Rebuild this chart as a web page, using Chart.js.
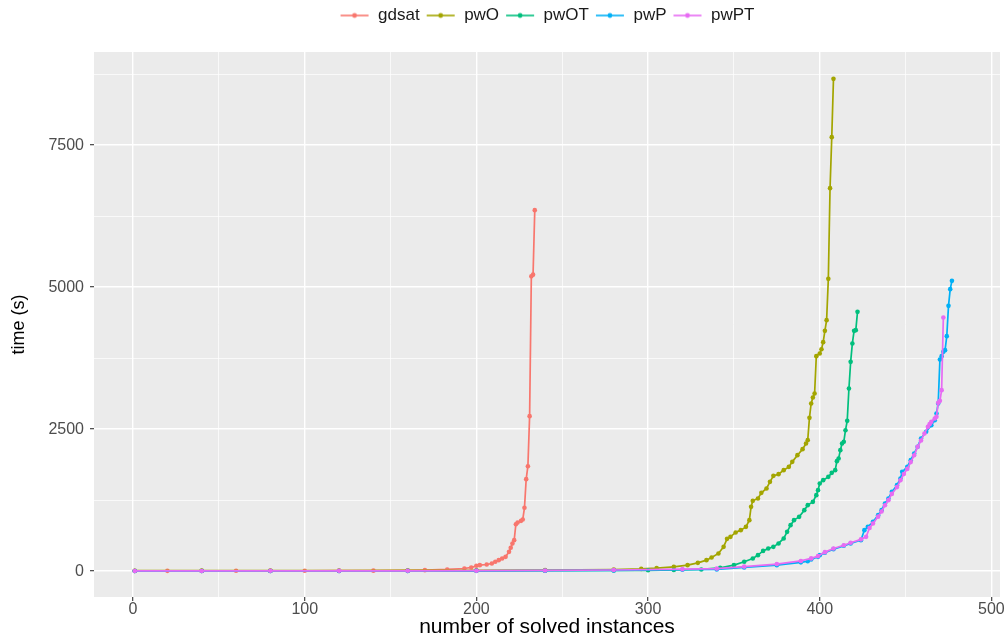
<!DOCTYPE html>
<html>
<head>
<meta charset="utf-8">
<script src="https://cdn.jsdelivr.net/npm/chart.js@4.4.1/dist/chart.umd.min.js"></script>
<style>
  html, body { margin: 0; padding: 0; background: #ffffff; }
  #chart { display: block; }
</style>
</head>
<body>
<canvas id="chart" width="1005" height="640"></canvas>
<script>
// series names (legend order)
const seriesNames = ['gdsat', 'pwO', 'pwOT', 'pwP', 'pwPT'];
const seriesColors = ['#F8766D', '#A3A500', '#00BF7D', '#00B0F6', '#E76BF3'];

// values: x = number of solved instances, y = time (s)
const gdsatX = [1, 20, 40, 60, 80, 100, 120, 140, 160, 170, 183, 193, 197, 200, 202, 206, 209, 211, 213, 215, 217, 219, 220, 221, 222, 223, 224, 226, 227, 228, 229, 230, 231, 232, 233, 234];
const gdsatY = [5, 5, 6, 6, 7, 7, 8, 9, 12, 18, 30, 47, 65, 94, 106, 117, 135, 165, 194, 223, 252, 340, 411, 488, 546, 827, 857, 886, 910, 1115, 1620, 1848, 2729, 5190, 5220, 6356];

const pwOX = [1, 40, 80, 120, 160, 200, 240, 280, 296, 305, 315, 323, 329, 334, 337, 341, 344, 346, 348, 351, 354, 357, 359, 360, 361, 364, 366, 369, 371, 373, 376, 379, 382, 384, 387, 390, 392, 393, 394, 395, 396, 397, 398, 400, 401, 402, 403, 404, 405, 406, 407, 408];
const pwOY = [8, 9, 10, 10, 12, 14, 18, 28, 40, 53, 76, 106, 146, 194, 241, 312, 428, 569, 604, 681, 722, 780, 898, 1132, 1238, 1280, 1379, 1456, 1572, 1678, 1708, 1778, 1836, 1924, 2042, 2148, 2248, 2306, 2699, 2952, 3058, 3128, 3785, 3832, 3908, 4032, 4231, 4419, 5146, 6743, 7641, 8667];

const pwOTX = [1, 40, 80, 120, 160, 200, 240, 280, 300, 315, 331, 342, 350, 356, 361, 364, 367, 370, 373, 376, 379, 381, 383, 385, 388, 391, 393, 396, 398, 399, 400, 402, 405, 407, 409, 410, 411, 412, 413, 414, 415, 416, 417, 418, 419, 420, 421, 422];
const pwOTY = [3, 3, 4, 4, 5, 6, 8, 12, 15, 20, 30, 59, 106, 165, 223, 282, 357, 400, 428, 488, 576, 692, 810, 898, 956, 1074, 1162, 1220, 1338, 1426, 1544, 1602, 1660, 1731, 1778, 1937, 1984, 2130, 2248, 2277, 2482, 2646, 3216, 3685, 4009, 4231, 4243, 4565];

const pwPX = [1, 40, 80, 120, 160, 200, 240, 280, 320, 340, 356, 375, 389, 393, 395, 399, 400, 403, 408, 414, 418, 424, 426, 428, 431, 434, 436, 438, 440, 442, 445, 447, 448, 451, 453, 455, 457, 459, 462, 465, 467, 468, 469, 470, 471, 472, 473, 474, 475, 476, 477];
const pwPY = [2, 2, 3, 3, 4, 5, 8, 12, 25, 30, 65, 106, 155, 175, 206, 252, 282, 323, 387, 446, 488, 546, 722, 780, 868, 986, 1074, 1192, 1280, 1396, 1514, 1632, 1748, 1836, 1954, 2072, 2189, 2336, 2453, 2570, 2658, 2776, 2952, 3727, 3785, 3861, 3891, 4137, 4671, 4965, 5111];

const pwPTX = [1, 40, 80, 120, 160, 200, 240, 280, 320, 340, 356, 375, 389, 395, 399, 403, 408, 414, 418, 424, 427, 429, 431, 434, 436, 438, 440, 442, 445, 447, 449, 451, 453, 455, 457, 459, 461, 463, 464, 465, 467, 468, 469, 470, 471, 472];
const pwPTY = [4, 4, 5, 5, 6, 8, 12, 20, 35, 45, 80, 125, 180, 225, 265, 335, 400, 455, 500, 560, 604, 760, 840, 960, 1050, 1160, 1250, 1360, 1480, 1600, 1710, 1800, 1920, 2040, 2189, 2300, 2424, 2541, 2588, 2629, 2688, 2717, 2963, 2998, 3187, 4467];

const seriesX = [gdsatX, pwOX, pwOTX, pwPX, pwPTX];
const seriesY = [gdsatY, pwOY, pwOTY, pwPY, pwPTY];

// axis ticks
const xMajor = [0, 100, 200, 300, 400, 500];
const xMinor = [50, 150, 250, 350, 450];
const yMajor = [0, 2500, 5000, 7500];
const yMinor = [1250, 3750, 6250, 8750];

const FONT = '"Liberation Sans", Arial, Helvetica, sans-serif';

// legend key: short line with a dot, like ggplot
function makeKey(color) {
  const c = document.createElement('canvas');
  c.width = 30;
  c.height = 10;
  const g = c.getContext('2d');
  g.strokeStyle = color;
  g.lineWidth = 1.6;
  g.beginPath();
  g.moveTo(1, 5);
  g.lineTo(29, 5);
  g.stroke();
  g.fillStyle = color;
  g.beginPath();
  g.arc(15, 5, 2.4, 0, Math.PI * 2);
  g.fill();
  return c;
}
const legendKeys = seriesColors.map(makeKey);

// grey panel behind the plot
const panelBackground = {
  id: 'panelBackground',
  beforeDraw(chart) {
    const { ctx, chartArea } = chart;
    ctx.save();
    ctx.fillStyle = '#EBEBEB';
    ctx.fillRect(chartArea.left, chartArea.top, chartArea.right - chartArea.left, chartArea.bottom - chartArea.top);
    ctx.restore();
  }
};

// extra room under the legend (ggplot leaves a gap before the panel)
const legendGap = {
  id: 'legendGap',
  beforeInit(chart) {
    const legend = chart.legend;
    if (!legend) return;
    const fit = legend.fit;
    legend.fit = function () {
      fit.call(this);
      this.height += 18;
    };
  }
};

function gridWidth(major) {
  return (ctx) => (ctx.tick && major.includes(ctx.tick.value) ? 1.4 : 0.7);
}
function tickColor(major) {
  return (ctx) => (ctx.tick && major.includes(ctx.tick.value) ? '#333333' : 'rgba(0,0,0,0)');
}

const datasets = seriesNames.map((name, i) => ({
  label: name,
  data: seriesX[i].map((x, j) => ({ x: x, y: seriesY[i][j] })),
  showLine: true,
  borderColor: seriesColors[i],
  backgroundColor: seriesColors[i],
  pointBackgroundColor: seriesColors[i],
  pointBorderWidth: 0,
  pointRadius: 2.3,
  pointHoverRadius: 2.3,
  borderWidth: 1.7,
  tension: 0,
  order: seriesNames.length - i // later series drawn on top
}));

new Chart(document.getElementById('chart'), {
  type: 'scatter',
  data: { datasets: datasets },
  plugins: [panelBackground, legendGap],
  options: {
    responsive: false,
    animation: false,
    devicePixelRatio: 1,
    layout: { padding: { top: 1, left: 0, right: 5, bottom: 0 } },
    plugins: {
      tooltip: { enabled: false },
      legend: {
        position: 'top',
        fullSize: false,
        labels: {
          usePointStyle: true,
          pointStyleWidth: 30,
          padding: 6,
          color: '#1A1A1A',
          font: { family: FONT, size: 17 },
          sort: (a, b) => a.datasetIndex - b.datasetIndex,
          generateLabels(chart) {
            const items = Chart.defaults.plugins.legend.labels.generateLabels(chart);
            items.forEach(it => { it.pointStyle = legendKeys[it.datasetIndex]; });
            return items;
          }
        }
      }
    },
    scales: {
      x: {
        type: 'linear',
        min: -22.75,
        max: 505,
        afterBuildTicks(scale) {
          scale.ticks = xMajor.concat(xMinor).sort((a, b) => a - b).map(v => ({ value: v }));
        },
        afterFit(scale) {
          scale.height = 43;
          scale.paddingLeft = 0;
          scale.paddingRight = 0;
        },
        border: { display: false },
        grid: {
          color: '#FFFFFF',
          lineWidth: gridWidth(xMajor),
          tickColor: tickColor(xMajor),
          tickWidth: 1.1,
          tickLength: 4
        },
        ticks: {
          autoSkip: false,
          maxRotation: 0,
          padding: -1,
          color: '#4D4D4D',
          font: { family: FONT, size: 16 },
          callback: (v) => (xMajor.includes(v) ? String(v) : '')
        },
        title: {
          display: true,
          text: 'number of solved instances',
          color: '#000000',
          font: { family: FONT, size: 21 },
          padding: { top: 0, bottom: 0 }
        }
      },
      y: {
        type: 'linear',
        min: -455,
        max: 9140,
        afterBuildTicks(scale) {
          scale.ticks = yMajor.concat(yMinor).sort((a, b) => a - b).map(v => ({ value: v }));
        },
        afterFit(scale) {
          scale.width = 94;
          scale.paddingTop = 0;
          scale.paddingBottom = 0;
        },
        border: { display: false },
        grid: {
          color: '#FFFFFF',
          lineWidth: gridWidth(yMajor),
          tickColor: tickColor(yMajor),
          tickWidth: 1.1,
          tickLength: 4
        },
        ticks: {
          autoSkip: false,
          padding: 6,
          color: '#4D4D4D',
          font: { family: FONT, size: 16 },
          callback: (v) => (yMajor.includes(v) ? String(v) : '')
        },
        title: {
          display: true,
          text: 'time (s)',
          color: '#000000',
          font: { family: FONT, size: 18 },
          padding: { top: 8, bottom: 0 }
        }
      }
    }
  }
});
</script>
</body>
</html>
